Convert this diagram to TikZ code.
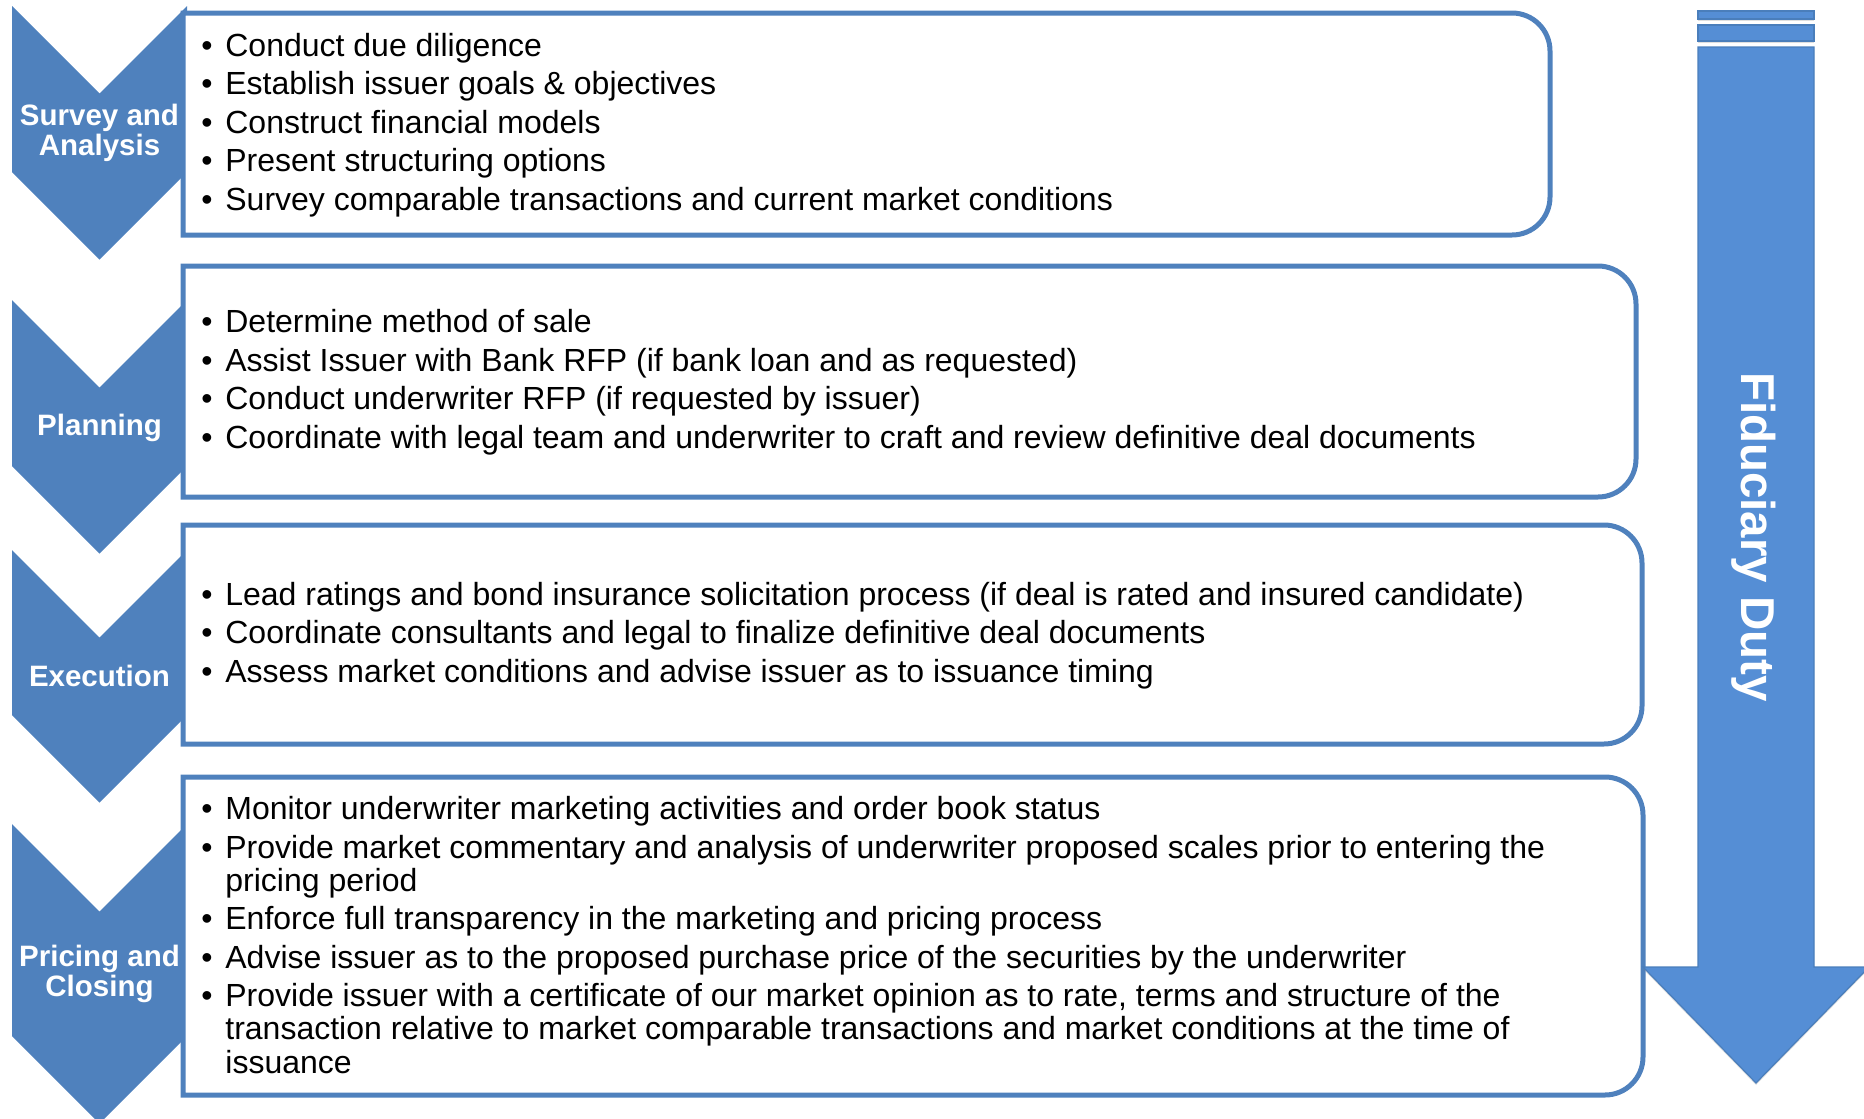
\documentclass[tikz,border=0pt]{standalone}
\usepackage{fontspec}
\setmainfont{Liberation Sans}
\usepackage{tikz}
\usetikzlibrary{shadows}
\definecolor{stageblue}{HTML}{4F81BD}
\definecolor{dutyblue}{HTML}{558ED5}
\definecolor{dutyedge}{HTML}{4A7EBB}
\newcommand{\bul}{\makebox[12pt][l]{\textbullet}}
\newcommand{\cont}{\hspace*{12pt}}

\begin{document}
\begin{tikzpicture}[x=0.5pt,y=-0.5pt,
    chevron/.style={fill=stageblue},
    frame/.style={draw=stageblue,line width=2.5pt,fill=white},
    stagelabel/.style={text=white,align=center,
                       font=\fontsize{14.75}{15}\selectfont\bfseries},
    tasks/.style={anchor=west,inner sep=0pt,align=left,
                  font=\fontsize{16}{16.65}\selectfont},
    duty/.style={fill=dutyblue,draw=dutyedge,line width=0.6pt,
                 drop shadow={opacity=0.25,shadow xshift=0pt,shadow yshift=-1pt}}]
  \useasboundingbox (0,0) rectangle (1864,1119);

  % stage chevrons
  \fill[chevron] (12,6)   -- (99.5,93.5)  -- (187,6)   -- (187,172)  -- (99.5,259.5)  -- (12,172)  -- cycle;
  \fill[chevron] (12,300) -- (99.5,387.5) -- (187,300) -- (187,466)  -- (99.5,553.5)  -- (12,466)  -- cycle;
  \fill[chevron] (12,550) -- (99.5,637.5) -- (187,550) -- (187,715)  -- (99.5,802.5)  -- (12,715)  -- cycle;
  \fill[chevron] (12,824) -- (99.5,911.5) -- (187,824) -- (187,1036) -- (99.5,1123.5) -- (12,1036) -- cycle;

  \node[stagelabel] (stage1) at (99.5,133) {Survey and\\Analysis};
  \node[stagelabel] (stage2) at (99.5,428) {Planning};
  \node[stagelabel] (stage3) at (99.5,676) {Execution};
  \node[stagelabel] (stage4) at (99.5,974) {Pricing and\\Closing};

  % task frames, square on the left and rounded on the right
  \draw[frame] (183,13)  [rounded corners=19pt] -- (1550,13)  -- (1550,235)  [sharp corners] -- (183,235)  -- cycle;
  \draw[frame] (183,266) [rounded corners=19pt] -- (1636,266) -- (1636,497)  [sharp corners] -- (183,497)  -- cycle;
  \draw[frame] (183,525) [rounded corners=19pt] -- (1642,525) -- (1642,744)  [sharp corners] -- (183,744)  -- cycle;
  \draw[frame] (183,777) [rounded corners=19pt] -- (1643,777) -- (1643,1095) [sharp corners] -- (183,1095) -- cycle;

  \node[tasks] (list1) at (201,125) {%
    \bul Conduct due diligence\\[2.6pt]
    \bul Establish issuer goals \& objectives\\[2.6pt]
    \bul Construct financial models\\[2.6pt]
    \bul Present structuring options\\[2.6pt]
    \bul Survey comparable transactions and current market conditions};
  \node[tasks] (list2) at (201,382) {%
    \bul Determine method of sale\\[2.6pt]
    \bul Assist Issuer with Bank RFP (if bank loan and as requested)\\[2.6pt]
    \bul Conduct underwriter RFP (if requested by issuer)\\[2.6pt]
    \bul Coordinate with legal team and underwriter to craft and review definitive deal documents};
  \node[tasks] (list3) at (201,635.5) {%
    \bul Lead ratings and bond insurance solicitation process (if deal is rated and insured candidate)\\[2.6pt]
    \bul Coordinate consultants and legal to finalize definitive deal documents\\[2.6pt]
    \bul Assess market conditions and advise issuer as to issuance timing};
  \node[tasks] (list4) at (201,935) {%
    \bul Monitor underwriter marketing activities and order book status\\[2.55pt]
    \bul Provide market commentary and analysis of underwriter proposed scales prior to entering the\\
    \cont pricing period\\[2.55pt]
    \bul Enforce full transparency in the marketing and pricing process\\[2.55pt]
    \bul Advise issuer as to the proposed purchase price of the securities by the underwriter\\[2.55pt]
    \bul Provide issuer with a certificate of our market opinion as to rate, terms and structure of the\\
    \cont transaction relative to market comparable transactions and market conditions at the time of\\
    \cont issuance};

  % fiduciary duty arrow
  \draw[duty] (1698,11) rectangle (1814,19);
  \draw[duty] (1698,25) rectangle (1814,41);
  \draw[duty] (1698,47) -- (1814,47) -- (1814,967) -- (1869,967) -- (1756,1083)
              -- (1643,967) -- (1698,967) -- cycle;
  \node[rotate=-90,text=white,font=\fontsize{23.75}{26}\selectfont\bfseries]
    (dutylabel) at (1754,537) {Fiduciary Duty};
\end{tikzpicture}
\end{document}
